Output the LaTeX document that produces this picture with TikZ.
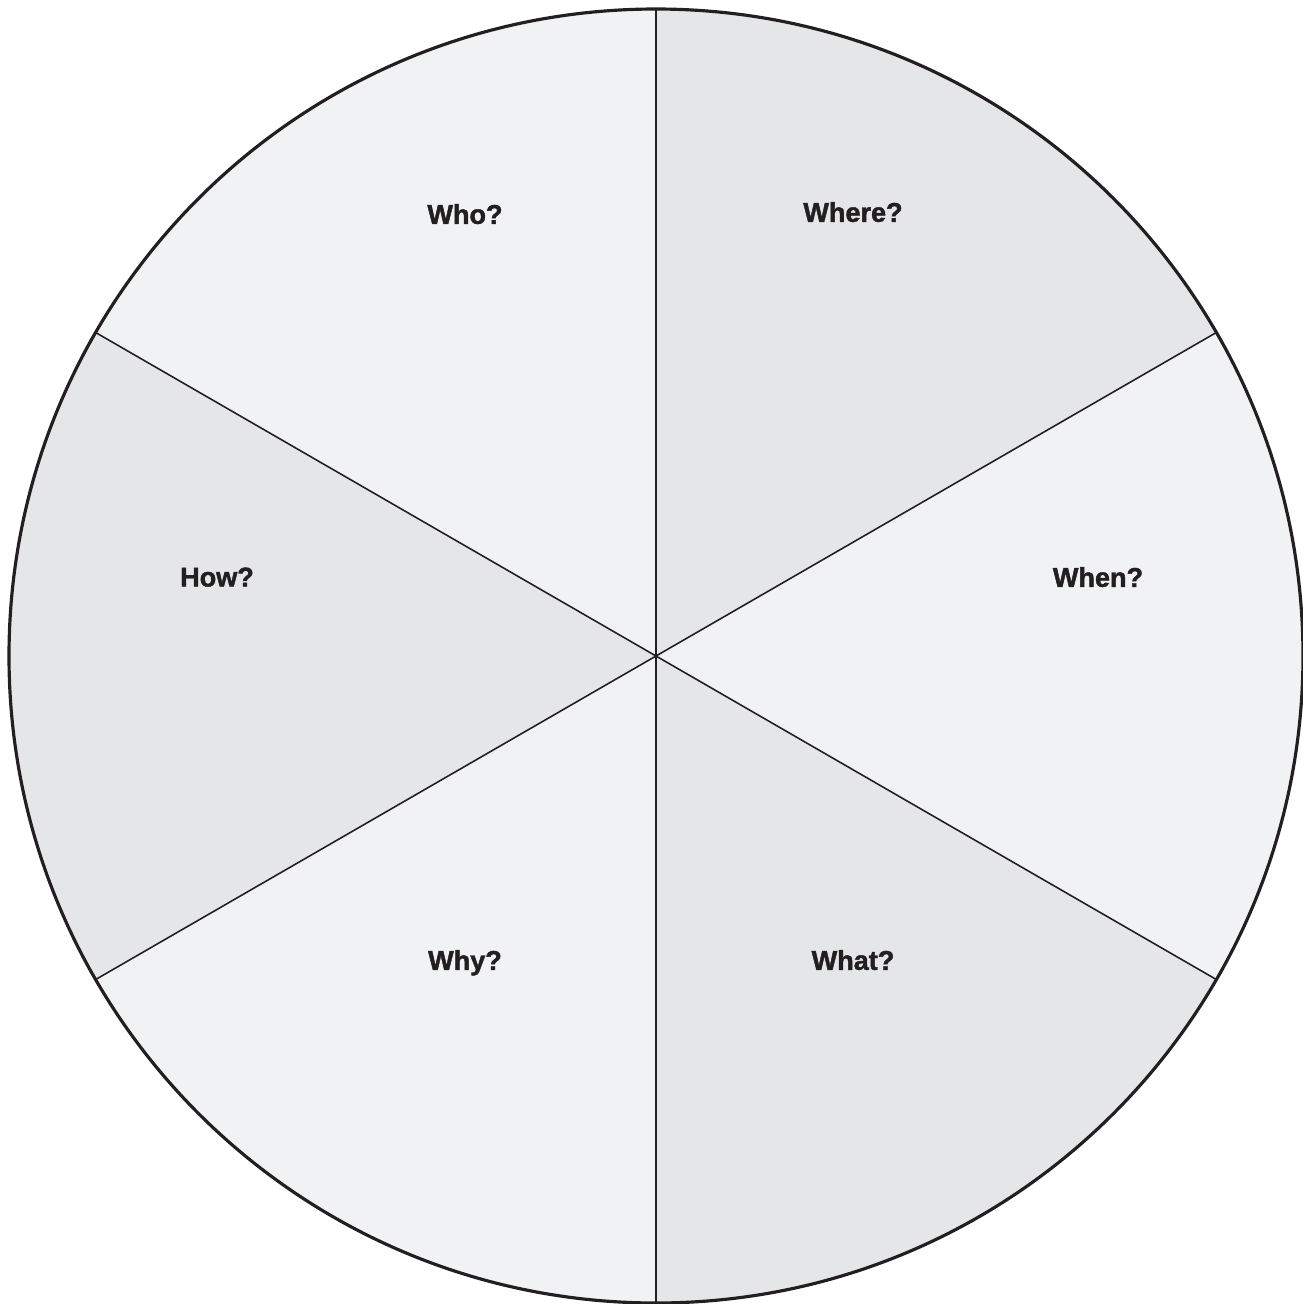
\documentclass[tikz,border=0pt]{standalone}
\usepackage{fontspec}
\setmainfont{Liberation Sans}[BoldFeatures={FakeBold=1.6}]
\usetikzlibrary{calc}

\definecolor{palegrey}{HTML}{F1F2F4}
\definecolor{midgrey}{HTML}{E5E6E8}
\definecolor{inkline}{HTML}{231F20}

\newcommand*{\rad}{6.47}

\begin{document}
\begin{tikzpicture}
[
	x=1cm,y=1cm,
	question/.style={font=\bfseries\fontsize{7.7}{10}\selectfont,text=inkline,inner sep=1pt,text depth=0pt},
	spoke/.style={draw=inkline,line width=0.45pt}
]

	\useasboundingbox (0,0) rectangle (13.03,-13.04);
	\coordinate (c) at (6.56,-6.56);

	% fills
	\foreach \a/\col in {90/palegrey,150/midgrey,210/palegrey,270/midgrey,330/palegrey,30/midgrey}
		\fill[\col] (c) -- ++(\a:\rad) arc[start angle=\a,delta angle=60,radius=\rad] -- cycle;

	% spokes
	\foreach \a [count=\i] in {90,30,-30,-90,-150,150}
		\coordinate (rim\i) at ($(c)+(\a:\rad)$);
	\foreach \i in {1,...,6}
		\draw[spoke] (c) -- (rim\i);

	% rim
	\draw[inkline,line width=0.9pt] (c) circle[radius=\rad];

	% labels
	\node[question] (who) at (4.65,-2.14) {Who?};
	\node[question] (where) at (8.53,-2.12) {Where?};
	\node[question] (when) at (10.98,-5.77) {When?};
	\node[question] (how) at (2.17,-5.77) {How?};
	\node[question] (why) at (4.65,-9.60) {Why?};
	\node[question] (what) at (8.53,-9.60) {What?};

\end{tikzpicture}
\end{document}
